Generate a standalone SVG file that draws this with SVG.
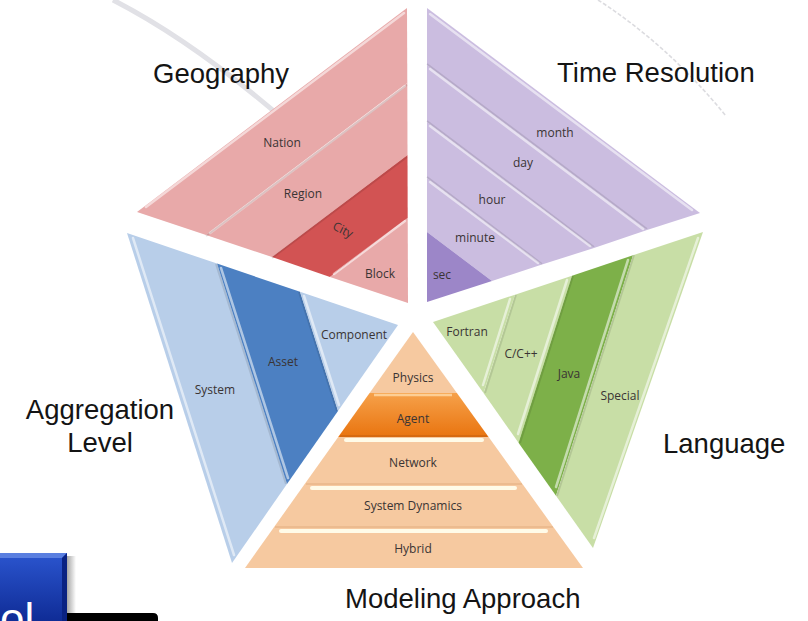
<svg xmlns="http://www.w3.org/2000/svg" width="808" height="621" viewBox="0 0 808 621">
<style>
.title{font-family:"Liberation Sans",Arial,sans-serif;font-size:27.5px;fill:#141414}
.lbl{font-family:"Open Sans","Noto Sans",sans-serif;font-size:12px;fill:#3a3434}
.hl{fill:none;stroke:#ffffff;stroke-opacity:.55;stroke-width:2.5;stroke-linecap:round}
.sh{fill:none;stroke:#000;stroke-opacity:.10;stroke-width:2}
.pk{fill:#e8a9a9}.pkd{fill:#d25353}
.lv{fill:#cbbde0}.lvd{fill:#9c86c8}
.bl{fill:#b8cee9}.bld{fill:#4c80c2}
.gr{fill:#c8dea6}.grd{fill:#7db049}
.or{fill:#f6c9a0}.ord{fill:#f08b2b}
</style>
<defs>
<linearGradient id="blueBox" x1="0" y1="0" x2="0" y2="1">
<stop offset="0" stop-color="#2b55cf"/><stop offset="1" stop-color="#0f2c96"/>
</linearGradient>
<linearGradient id="boxShadow" x1="0" y1="0" x2="1" y2="0">
<stop offset="0" stop-color="#000" stop-opacity=".35"/><stop offset="1" stop-color="#000" stop-opacity="0"/>
</linearGradient>
<linearGradient id="agentG" x1="0" y1="0" x2="0" y2="1">
<stop offset="0" stop-color="#f6a14a"/><stop offset="1" stop-color="#e9740f"/>
</linearGradient>
</defs>

<g id="background">
<path d="M113,0 Q195,42 290,125" fill="none" stroke="#e1e1e6" stroke-width="5"/>
<path d="M598,0 Q668,45 726,116" fill="none" stroke="#dcdce0" stroke-width="1.6" stroke-dasharray="4 2"/>
</g>

<g id="geography">
<polygon class="pk" points="407,8 137,212 206,235 407.3,83"/>
<polygon class="pk" points="407.3,83 206,235 272,257 407.5,155" fill-opacity="1"/>
<polygon class="pkd" points="407.5,155 272,257 330,277 407.7,218"/>
<polygon class="pk" points="407.7,218 330,277 408,303"/>
<line class="hl" x1="146" y1="207" x2="404" y2="13"/>
<line class="hl" x1="210" y1="233" x2="405" y2="86"/>
<line class="sh" x1="206" y1="236" x2="407" y2="85"/>
<line class="sh" x1="272" y1="258" x2="407" y2="157"/>
<line class="hl" x1="334" y1="274" x2="405" y2="221"/>
<text class="lbl" x="282" y="147" text-anchor="middle">Nation</text>
<text class="lbl" x="303" y="198" text-anchor="middle">Region</text>
<text class="lbl" x="343" y="234" text-anchor="middle" transform="rotate(27 343 230)">City</text>
<text class="lbl" x="380" y="278" text-anchor="middle">Block</text>
<text class="title" x="153" y="83">Geography</text>
</g>

<g id="time-resolution">
<polygon class="lv" points="427,8 700,213 647,230 427,65"/>
<polygon class="lv" points="427,65 647,230 594,248 427,122"/>
<polygon class="lv" points="427,122 594,248 542,264.5 427,178"/>
<polygon class="lv" points="427,178 542,264.5 492,281 427,232"/>
<polygon class="lvd" points="427,232 492,281 427,302"/>
<line class="hl" x1="430" y1="14" x2="692" y2="210"/>
<line class="hl" x1="430" y1="69" x2="643" y2="229"/>
<line class="hl" x1="430" y1="126" x2="590" y2="246"/>
<line class="hl" x1="430" y1="182" x2="538" y2="263"/>
<line class="sh" x1="427" y1="64" x2="647" y2="229"/>
<line class="sh" x1="427" y1="121" x2="594" y2="247"/>
<line class="sh" x1="427" y1="177" x2="542" y2="264"/>
<text class="lbl" x="555" y="137" text-anchor="middle">month</text>
<text class="lbl" x="523" y="167" text-anchor="middle">day</text>
<text class="lbl" x="492" y="204" text-anchor="middle">hour</text>
<text class="lbl" x="475" y="242" text-anchor="middle">minute</text>
<text class="lbl" x="442" y="279" text-anchor="middle">sec</text>
<text class="title" x="557" y="82">Time Resolution</text>
</g>

<g id="aggregation-level">
<polygon class="bl" points="127,233 217,263.6 287,484 232,563"/>
<polygon class="bld" points="217,263.6 300,291.7 338,411 287,484"/>
<polygon class="bl" points="300,291.7 398,325 338,411"/>
<line class="hl" x1="133" y1="238" x2="234" y2="555"/>
<line class="hl" x1="221" y1="268" x2="288" y2="478"/>
<line class="hl" x1="304" y1="296" x2="339" y2="405"/>
<line class="sh" x1="216" y1="264" x2="286" y2="484"/>
<line class="sh" x1="299" y1="292" x2="337" y2="411"/>
<text class="lbl" x="215" y="394" text-anchor="middle">System</text>
<text class="lbl" x="283" y="366" text-anchor="middle">Asset</text>
<text class="lbl" x="354" y="339" text-anchor="middle">Component</text>
<text class="title" x="100" y="419" text-anchor="middle">Aggregation</text>
<text class="title" x="100" y="452" text-anchor="middle">Level</text>
</g>

<g id="language">
<polygon class="gr" points="433,322 515,294.7 483.5,393"/>
<polygon class="gr" points="515,294.7 572,275.7 518.5,442.8 483.5,393"/>
<polygon class="grd" points="572,275.7 633,255.3 556,495.8 518.5,442.8"/>
<polygon class="gr" points="633,255.3 703,232 593,548 556,495.8"/>
<line class="hl" x1="510" y1="299" x2="483" y2="385"/>
<line class="hl" x1="567" y1="280" x2="518" y2="434"/>
<line class="hl" x1="628" y1="260" x2="556" y2="487"/>
<line class="hl" x1="698" y1="238" x2="594" y2="538"/>
<line class="sh" x1="516" y1="295" x2="485" y2="393"/>
<line class="sh" x1="573" y1="276" x2="520" y2="443"/>
<line class="sh" x1="634" y1="255" x2="557" y2="496"/>
<text class="lbl" x="467" y="336" text-anchor="middle">Fortran</text>
<text class="lbl" x="521" y="358" text-anchor="middle">C/C++</text>
<text class="lbl" x="569" y="378" text-anchor="middle">Java</text>
<text class="lbl" x="620" y="400" text-anchor="middle">Special</text>
<text class="title" x="663" y="453">Language</text>
</g>

<g id="modeling-approach">
<polygon class="or" points="413,332 369.6,393 456.9,393"/>
<polygon fill="url(#agentG)" points="369.6,393 456.9,393 488.6,437 338.2,437"/>
<polygon class="or" points="338.2,437 488.6,437 523.2,485 304,485"/>
<polygon class="or" points="304,485 523.2,485 554.1,528 273.4,528"/>
<polygon class="or" points="273.4,528 554.1,528 583,568 245,568"/>
<line x1="374" y1="395" x2="452" y2="395" stroke="#ffd9a8" stroke-width="2.5" stroke-opacity=".8"/>
<line x1="346" y1="440" x2="482" y2="440" stroke="#fffbe8" stroke-width="4" stroke-linecap="round"/>
<line x1="312" y1="488" x2="515" y2="488" stroke="#fffbe8" stroke-width="4" stroke-linecap="round"/>
<line x1="281" y1="531" x2="546" y2="531" stroke="#fffbe8" stroke-width="4" stroke-linecap="round"/>
<line x1="340" y1="436" x2="487" y2="436" stroke="#b85a10" stroke-width="1.5" stroke-opacity=".5"/>
<line x1="306" y1="484" x2="522" y2="484" stroke="#c07a40" stroke-width="1.2" stroke-opacity=".35"/>
<line x1="275" y1="527" x2="553" y2="527" stroke="#c07a40" stroke-width="1.2" stroke-opacity=".35"/>
<text class="lbl" x="413" y="382" text-anchor="middle">Physics</text>
<text class="lbl" x="413" y="423" text-anchor="middle">Agent</text>
<text class="lbl" x="413" y="467" text-anchor="middle">Network</text>
<text class="lbl" x="413" y="510" text-anchor="middle">System Dynamics</text>
<text class="lbl" x="413" y="553" text-anchor="middle">Hybrid</text>
<text class="title" x="345" y="608">Modeling Approach</text>
</g>

<g id="corner-box">
<rect x="67" y="556" width="9" height="65" fill="url(#boxShadow)"/>
<rect x="0" y="553" width="67" height="68" fill="url(#blueBox)"/>
<polygon points="0,553 67,553 62,558 0,558" fill="#5a7fe0"/>
<polygon points="67,553 67,621 62,621 62,558" fill="#0a2282"/>
<path d="M67,621 V613 H153 Q158,613 158,618 V621 Z" fill="#000"/>
<text x="0" y="634" font-family="Liberation Sans,Arial,sans-serif" font-size="44" fill="#ffffff">ol</text>
</g>
</svg>
